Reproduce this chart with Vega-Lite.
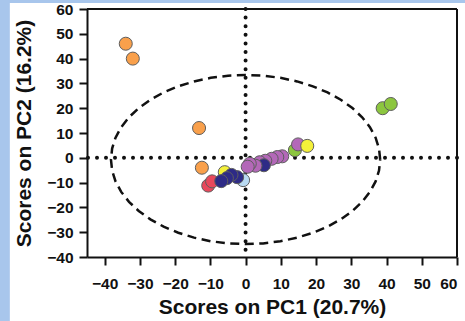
{
  "$schema": "https://vega.github.io/schema/vega-lite/v6.json",
  "width": 370,
  "height": 248,
  "autosize": {"type": "none"},
  "padding": {"left": 87, "top": 9, "right": 8, "bottom": 64},
  "background": "#a8c6ec",
  "config": {
    "view": {"stroke": null},
    "axis": {
      "grid": false,
      "domainColor": "#111111",
      "domainWidth": 2,
      "tickColor": "#111111",
      "tickWidth": 2,
      "tickSize": 8,
      "labelFont": "Liberation Sans",
      "labelFontSize": 15.5,
      "labelFontWeight": "bold",
      "labelColor": "#111111",
      "titleFont": "Liberation Sans",
      "titleFontSize": 21,
      "titleFontWeight": "bold",
      "titleColor": "#111111"
    }
  },
  "datasets": {
    "bg": [{"pc1": -66.9, "pc1b": 80, "pc2": -80, "pc2b": 62.4}],
    "origin": [{"pc1": 0, "pc2": 0}],
    "frame": [{"pc1": 60, "pc2": 60}],
    "ellipse": [
      {"i": 0, "pc1": 38.2, "pc2": -0.7}, {"i": 1, "pc1": 37.87, "pc2": 3.75}, {"i": 2, "pc1": 36.9, "pc2": 8.13}, {"i": 3, "pc1": 35.29, "pc2": 12.35},
      {"i": 4, "pc1": 33.08, "pc2": 16.35}, {"i": 5, "pc1": 30.31, "pc2": 20.06}, {"i": 6, "pc1": 27.01, "pc2": 23.41}, {"i": 7, "pc1": 23.26, "pc2": 26.36},
      {"i": 8, "pc1": 19.1, "pc2": 28.83}, {"i": 9, "pc1": 14.62, "pc2": 30.8}, {"i": 10, "pc1": 9.89, "pc2": 32.24}, {"i": 11, "pc1": 4.99, "pc2": 33.11},
      {"i": 12, "pc1": 0, "pc2": 33.4}, {"i": 13, "pc1": -4.99, "pc2": 33.11}, {"i": 14, "pc1": -9.89, "pc2": 32.24}, {"i": 15, "pc1": -14.62, "pc2": 30.8},
      {"i": 16, "pc1": -19.1, "pc2": 28.83}, {"i": 17, "pc1": -23.26, "pc2": 26.36}, {"i": 18, "pc1": -27.01, "pc2": 23.41}, {"i": 19, "pc1": -30.31, "pc2": 20.06},
      {"i": 20, "pc1": -33.08, "pc2": 16.35}, {"i": 21, "pc1": -35.29, "pc2": 12.35}, {"i": 22, "pc1": -36.9, "pc2": 8.13}, {"i": 23, "pc1": -37.87, "pc2": 3.75},
      {"i": 24, "pc1": -38.2, "pc2": -0.7}, {"i": 25, "pc1": -37.87, "pc2": -5.15}, {"i": 26, "pc1": -36.9, "pc2": -9.53}, {"i": 27, "pc1": -35.29, "pc2": -13.75},
      {"i": 28, "pc1": -33.08, "pc2": -17.75}, {"i": 29, "pc1": -30.31, "pc2": -21.46}, {"i": 30, "pc1": -27.01, "pc2": -24.81}, {"i": 31, "pc1": -23.26, "pc2": -27.76},
      {"i": 32, "pc1": -19.1, "pc2": -30.23}, {"i": 33, "pc1": -14.62, "pc2": -32.2}, {"i": 34, "pc1": -9.89, "pc2": -33.64}, {"i": 35, "pc1": -4.99, "pc2": -34.51},
      {"i": 36, "pc1": 0, "pc2": -34.8}, {"i": 37, "pc1": 4.99, "pc2": -34.51}, {"i": 38, "pc1": 9.89, "pc2": -33.64}, {"i": 39, "pc1": 14.62, "pc2": -32.2},
      {"i": 40, "pc1": 19.1, "pc2": -30.23}, {"i": 41, "pc1": 23.26, "pc2": -27.76}, {"i": 42, "pc1": 27.01, "pc2": -24.81}, {"i": 43, "pc1": 30.31, "pc2": -21.46},
      {"i": 44, "pc1": 33.08, "pc2": -17.75}, {"i": 45, "pc1": 35.29, "pc2": -13.75}, {"i": 46, "pc1": 36.9, "pc2": -9.53}, {"i": 47, "pc1": 37.87, "pc2": -5.15},
      {"i": 48, "pc1": 38.2, "pc2": -0.7}
    ],
    "scores": [
      {"group": "orange", "pc1": -34, "pc2": 46},
      {"group": "orange", "pc1": -32, "pc2": 40},
      {"group": "orange", "pc1": -13.2, "pc2": 12},
      {"group": "orange", "pc1": -12.4, "pc2": -4},
      {"group": "green", "pc1": 38.9, "pc2": 20},
      {"group": "green", "pc1": 41.2, "pc2": 21.7},
      {"group": "green", "pc1": 14, "pc2": 3.1},
      {"group": "purple", "pc1": 14.9, "pc2": 5.4},
      {"group": "yellow", "pc1": 17.5, "pc2": 4.8},
      {"group": "purple", "pc1": 10.4, "pc2": 0.6},
      {"group": "purple", "pc1": 9, "pc2": 0.3},
      {"group": "purple", "pc1": 7.4, "pc2": -0.4},
      {"group": "purple", "pc1": 5.6, "pc2": -1.2},
      {"group": "purple", "pc1": 4, "pc2": -1.8},
      {"group": "navy", "pc1": 5.2, "pc2": -3},
      {"group": "purple", "pc1": 2.8, "pc2": -3.2},
      {"group": "purple", "pc1": 1.2, "pc2": -2.4},
      {"group": "purple", "pc1": 0.6, "pc2": -3.6},
      {"group": "yellow", "pc1": -5.9, "pc2": -5.8},
      {"group": "lightblue", "pc1": -0.7, "pc2": -9},
      {"group": "red", "pc1": -10.6, "pc2": -11.2},
      {"group": "red", "pc1": -9.5, "pc2": -9.5},
      {"group": "navy", "pc1": -2.4, "pc2": -7.8},
      {"group": "navy", "pc1": -4, "pc2": -6.9},
      {"group": "navy", "pc1": -5.3, "pc2": -8.2},
      {"group": "navy", "pc1": -6.9, "pc2": -9.4}
    ]
  },
  "layer": [
    {
      "data": {"name": "bg"},
      "mark": {"type": "rect", "fill": "white", "clip": false},
      "encoding": {
        "x": {
          "field": "pc1", "type": "quantitative",
          "scale": {"domain": [-45, 60], "nice": false, "zero": false},
          "axis": {"values": [-40, -30, -20, -10, 0, 10, 20, 30, 40, 50, 60], "title": "Scores on PC1 (20.7%)", "labelPadding": 11, "titlePadding": 5, "zindex": 2}
        },
        "x2": {"field": "pc1b"},
        "y": {
          "field": "pc2", "type": "quantitative",
          "scale": {"domain": [-40, 60], "nice": false, "zero": false},
          "axis": {"values": [-40, -30, -20, -10, 0, 10, 20, 30, 40, 50, 60], "title": "Scores on PC2 (16.2%)", "labelPadding": 6, "titlePadding": 12, "zindex": 2}
        },
        "y2": {"field": "pc2b"}
      }
    },
    {
      "data": {"name": "origin"},
      "mark": {"type": "rule", "color": "#111111", "strokeWidth": 4, "strokeDash": [0, 8.6], "strokeCap": "round"},
      "encoding": {
        "x": {"field": "pc1", "type": "quantitative",
          "axis": {"values": [-40, -30, -20, -10, 0, 10, 20, 30, 40, 50, 60], "title": "Scores on PC1 (20.7%)", "labelPadding": 11, "titlePadding": 5, "zindex": 2}}
      }
    },
    {
      "data": {"name": "origin"},
      "mark": {"type": "rule", "color": "#111111", "strokeWidth": 4, "strokeDash": [0, 9], "strokeCap": "round"},
      "encoding": {
        "y": {"field": "pc2", "type": "quantitative",
          "axis": {"values": [-40, -30, -20, -10, 0, 10, 20, 30, 40, 50, 60], "title": "Scores on PC2 (16.2%)", "labelPadding": 6, "titlePadding": 12, "zindex": 2}}
      }
    },
    {
      "data": {"name": "frame"},
      "mark": {"type": "rule", "color": "#111111", "strokeWidth": 2},
      "encoding": {
        "y": {"field": "pc2", "type": "quantitative",
          "axis": {"values": [-40, -30, -20, -10, 0, 10, 20, 30, 40, 50, 60], "title": "Scores on PC2 (16.2%)", "labelPadding": 6, "titlePadding": 12, "zindex": 2}}
      }
    },
    {
      "data": {"name": "frame"},
      "mark": {"type": "rule", "color": "#111111", "strokeWidth": 2},
      "encoding": {
        "x": {"field": "pc1", "type": "quantitative",
          "axis": {"values": [-40, -30, -20, -10, 0, 10, 20, 30, 40, 50, 60], "title": "Scores on PC1 (20.7%)", "labelPadding": 11, "titlePadding": 5, "zindex": 2}}
      }
    },
    {
      "data": {"name": "ellipse"},
      "mark": {"type": "line", "color": "#111111", "strokeWidth": 2.5, "strokeDash": [9, 5.5]},
      "encoding": {
        "x": {"field": "pc1", "type": "quantitative",
          "axis": {"values": [-40, -30, -20, -10, 0, 10, 20, 30, 40, 50, 60], "title": "Scores on PC1 (20.7%)", "labelPadding": 11, "titlePadding": 5, "zindex": 2}},
        "y": {"field": "pc2", "type": "quantitative",
          "axis": {"values": [-40, -30, -20, -10, 0, 10, 20, 30, 40, 50, 60], "title": "Scores on PC2 (16.2%)", "labelPadding": 6, "titlePadding": 12, "zindex": 2}},
        "order": {"field": "i", "type": "quantitative"}
      }
    },
    {
      "data": {"name": "scores"},
      "mark": {"type": "point", "filled": true, "size": 170, "opacity": 1, "stroke": "#5e5e5e", "strokeWidth": 1},
      "encoding": {
        "x": {"field": "pc1", "type": "quantitative",
          "axis": {"values": [-40, -30, -20, -10, 0, 10, 20, 30, 40, 50, 60], "title": "Scores on PC1 (20.7%)", "labelPadding": 11, "titlePadding": 5, "zindex": 2}},
        "y": {"field": "pc2", "type": "quantitative",
          "axis": {"values": [-40, -30, -20, -10, 0, 10, 20, 30, 40, 50, 60], "title": "Scores on PC2 (16.2%)", "labelPadding": 6, "titlePadding": 12, "zindex": 2}},
        "color": {
          "field": "group", "type": "nominal", "legend": null,
          "scale": {
            "domain": ["orange", "green", "purple", "yellow", "navy", "red", "lightblue"],
            "range": ["#f9a04b", "#8cc63f", "#b368b8", "#f4f03a", "#2e2b86", "#e8485c", "#b9daf2"]
          }
        }
      }
    }
  ]
}
